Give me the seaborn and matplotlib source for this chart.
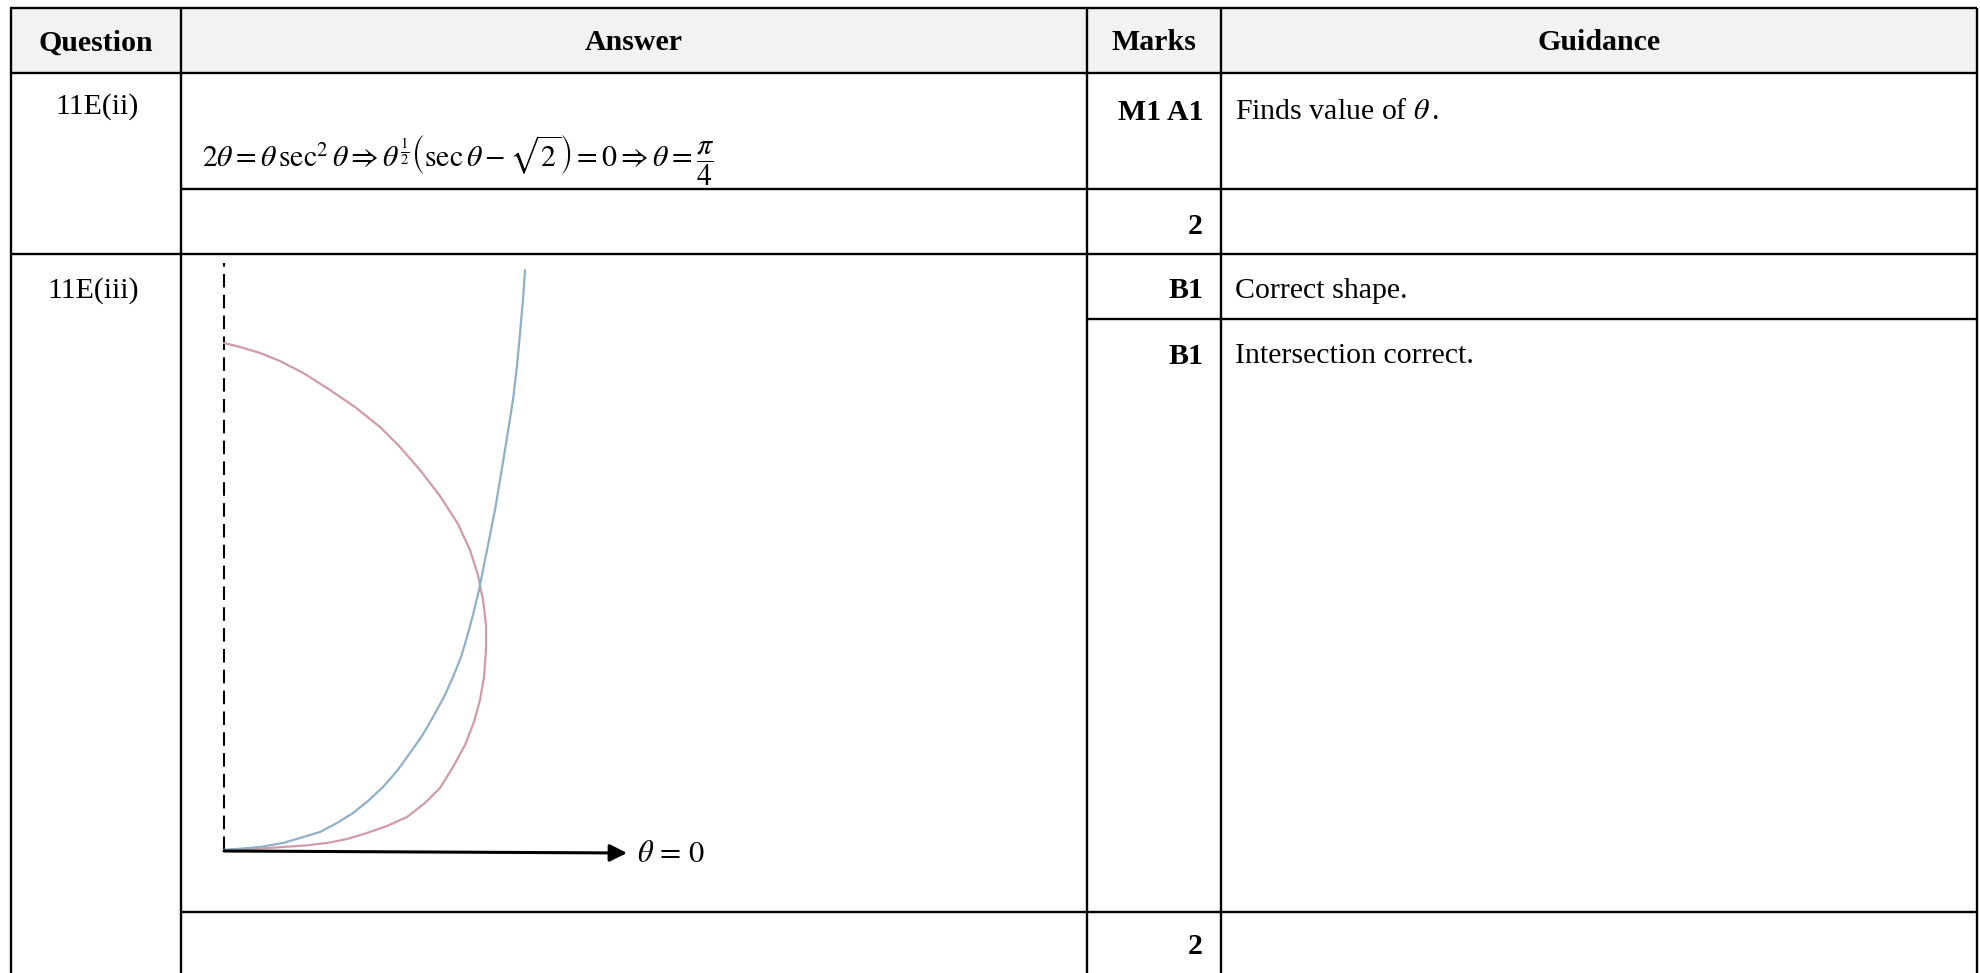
import matplotlib
matplotlib.use("Agg")
import matplotlib.pyplot as plt
import seaborn as sns

# page size in pixels (dpi 100)
W, H = 1980, 973

# table text
headers = ["Question", "Answer", "Marks", "Guidance"]
questions = ["11E(ii)", "11E(iii)"]
answer_formula = (r"$2\theta = \theta\,\sec^2\theta \Rightarrow "
                  r"\theta^{\frac{1}{2}}\left(\sec\theta - \sqrt{2}\right) = 0"
                  r" \Rightarrow \theta = \dfrac{\pi}{4}$")
marks = ["M1 A1", "2", "B1", "B1", "2"]
guidance = [r"Finds value of $\theta\,$.", "", "Correct shape.", "Intersection correct.", ""]

# sketch curves (units of 100 px from the pole)
red_x = [0.00, 0.16, 0.36, 0.56, 0.81, 1.06, 1.31, 1.56, 1.76, 1.96, 2.16, 2.34,
         2.46, 2.54, 2.59, 2.62, 2.62, 2.60, 2.56, 2.50, 2.41, 2.29, 2.16, 2.01,
         1.83, 1.63, 1.43, 1.23, 1.03, 0.81, 0.59, 0.36, 0.16, 0.00]
red_y = [5.07, 5.03, 4.97, 4.89, 4.76, 4.60, 4.43, 4.23, 4.03, 3.80, 3.54, 3.26,
         3.00, 2.75, 2.50, 2.25, 2.00, 1.73, 1.50, 1.28, 1.05, 0.83, 0.62, 0.47,
         0.33, 0.24, 0.17, 0.11, 0.07, 0.045, 0.03, 0.015, 0.007, 0.00]
blue_x = [0.00, 0.16, 0.36, 0.59, 0.76, 0.96, 1.13, 1.29, 1.44, 1.59, 1.73, 1.86,
          1.98, 2.09, 2.20, 2.29, 2.37, 2.43, 2.49, 2.55, 2.59, 2.63, 2.67, 2.71,
          2.76, 2.81, 2.85, 2.89, 2.93, 2.96, 2.99, 3.01]
blue_y = [0.00, 0.013, 0.03, 0.07, 0.12, 0.18, 0.27, 0.37, 0.49, 0.63, 0.79, 0.97,
          1.14, 1.33, 1.53, 1.73, 1.93, 2.13, 2.35, 2.60, 2.80, 3.00, 3.20, 3.40,
          3.70, 4.00, 4.25, 4.50, 4.84, 5.17, 5.50, 5.80]
half_line_top = 5.87
initial_line_end = (4.03, -0.03)

# grid of the table (pixels)
col_x = [11, 181, 1087, 1221, 1977]
top_y = 8
h_rules = [(8, 10, 1977), (73, 10, 1977), (189, 181, 1977), (254, 10, 1977),
           (319, 1087, 1977), (912, 181, 1977)]

sns.set_theme(style="white")
plt.rcParams["font.family"] = ["Liberation Serif", "DejaVu Serif"]
plt.rcParams["mathtext.fontset"] = "stix"
plt.rcParams["text.color"] = "black"

fig = plt.figure(figsize=(W / 100, H / 100), dpi=100)
fig.patch.set_facecolor("white")

tab = fig.add_axes([0, 0, 1, 1])
tab.set_xlim(0, W)
tab.set_ylim(H, 0)
tab.axis("off")

# header shading
tab.fill_between([col_x[0], col_x[-1]], top_y, 73, color="#f2f2f2", lw=0, zorder=0)

lw = 1.7
for y, x0, x1 in h_rules:
    tab.hlines(y, x0, x1, color="black", lw=lw, zorder=2)
for x in col_x:
    tab.vlines(x, top_y, H, color="black", lw=lw, zorder=2)

fs = 21.5
centers = [(col_x[i] + col_x[i + 1]) / 2 for i in range(4)]
for cx, txt in zip(centers, headers):
    tab.text(cx, 43, txt, ha="center", va="center", fontsize=fs, fontweight="bold")

tab.text(139, 107, questions[0], ha="right", va="center", fontsize=fs)
tab.text(139, 291, questions[1], ha="right", va="center", fontsize=fs)

tab.text(202, 161, answer_formula, ha="left", va="center", fontsize=21.5)

mark_y = [112, 226, 291, 356, 947]
for y, m, g in zip(mark_y, marks, guidance):
    tab.text(1203, y, m, ha="right", va="center", fontsize=fs, fontweight="bold")
    if g:
        tab.text(1235, y, g, ha="left", va="center", fontsize=fs)

# polar sketch
ox, oy = 224, 850
x_lo, x_hi, y_lo, y_hi = -0.5, 5.5, -0.5, 6.2
ax = fig.add_axes([(ox + x_lo * 100) / W, (H - (oy - y_lo * 100)) / H,
                   (x_hi - x_lo) * 100 / W, (y_hi - y_lo) * 100 / H])
ax.set_xlim(x_lo, x_hi)
ax.set_ylim(y_lo, y_hi)
ax.axis("off")
ax.patch.set_alpha(0)

ax.plot([0, 0], [0, half_line_top], color="black", lw=1.5, dashes=(6.5, 3.5))
sns.lineplot(x=red_x, y=red_y, sort=False, estimator=None, color="#d09ba6", lw=1.6, ax=ax)
sns.lineplot(x=blue_x, y=blue_y, sort=False, estimator=None, color="#8fb0c6", lw=1.6, ax=ax)
ax.annotate("", xy=initial_line_end, xytext=(0, -0.01),
            arrowprops=dict(arrowstyle="-|>", color="black", lw=2.2,
                            mutation_scale=26, shrinkA=0, shrinkB=0))
ax.text(4.13, -0.05, r"$\theta\, =\, 0$", ha="left", va="center", fontsize=22)

fig.savefig("out.png", dpi=100)
